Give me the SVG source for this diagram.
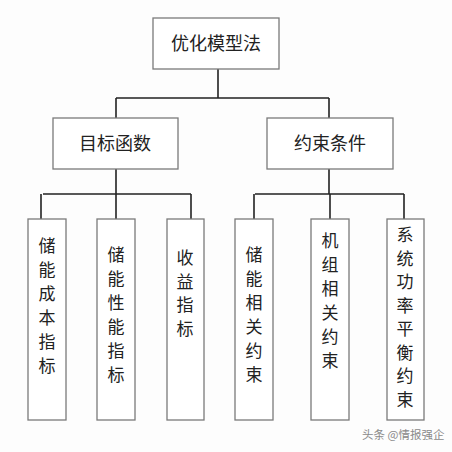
<svg xmlns="http://www.w3.org/2000/svg" width="452" height="452" viewBox="0 0 452 452">
<style>
.box{fill:#fff;stroke:#7a7a7a;stroke-width:1.3}
.ln{fill:none;stroke:#222;stroke-width:1.6}
.t{font-family:"Noto Sans CJK SC","Noto Sans",sans-serif;fill:#222;text-anchor:middle}
.h{font-size:18px}
.v{font-size:17px}
.wm{font-family:"Noto Sans CJK SC",sans-serif;font-size:11.5px;fill:#8a8a8a}
</style>
<rect width="452" height="452" fill="#fdfdfd"/>
<g id="connectors">
<path class="ln" d="M218 69V98M116 98H329M116 98V118M329 98V118"/>
<path class="ln" d="M116 169V194M43 194H191M41 194V219M116 194V219M191 194V219"/>
<path class="ln" d="M329 169V194M255 194H404M254 194V219M330 194V219M404 194V219"/>
</g>
<g id="root"><rect class="box" x="153" y="18" width="126" height="51"/><text class="t h" x="216" y="50">优化模型法</text></g>
<g id="obj"><rect class="box" x="53" y="118" width="125" height="51"/><text class="t h" x="115" y="150">目标函数</text></g>
<g id="con"><rect class="box" x="267" y="118" width="126" height="51"/><text class="t h" x="330" y="150">约束条件</text></g>
<g id="n1"><rect class="box" x="28" y="219" width="38" height="201"/><text class="t v" x="47" y="252"><tspan x="47">储</tspan><tspan x="47" dy="24">能</tspan><tspan x="47" dy="24">成</tspan><tspan x="47" dy="24">本</tspan><tspan x="47" dy="24">指</tspan><tspan x="47" dy="24">标</tspan></text></g>
<g id="n2"><rect class="box" x="97" y="219" width="38" height="201"/><text class="t v" x="116" y="261"><tspan x="116">储</tspan><tspan x="116" dy="24">能</tspan><tspan x="116" dy="24">性</tspan><tspan x="116" dy="24">能</tspan><tspan x="116" dy="24">指</tspan><tspan x="116" dy="24">标</tspan></text></g>
<g id="n3"><rect class="box" x="167" y="219" width="37" height="201"/><text class="t v" x="185" y="264"><tspan x="185">收</tspan><tspan x="185" dy="23.5">益</tspan><tspan x="185" dy="23.5">指</tspan><tspan x="185" dy="23.5">标</tspan></text></g>
<g id="n4"><rect class="box" x="235" y="219" width="38" height="201"/><text class="t v" x="254" y="261"><tspan x="254">储</tspan><tspan x="254" dy="24">能</tspan><tspan x="254" dy="24">相</tspan><tspan x="254" dy="24">关</tspan><tspan x="254" dy="24">约</tspan><tspan x="254" dy="24">束</tspan></text></g>
<g id="n5"><rect class="box" x="311" y="219" width="38" height="201"/><text class="t v" x="330" y="247"><tspan x="330">机</tspan><tspan x="330" dy="24">组</tspan><tspan x="330" dy="24">相</tspan><tspan x="330" dy="24">关</tspan><tspan x="330" dy="24">约</tspan><tspan x="330" dy="24">束</tspan></text></g>
<g id="n6"><rect class="box" x="387" y="219" width="37" height="201"/><text class="t v" x="405" y="241"><tspan x="405">系</tspan><tspan x="405" dy="23.5">统</tspan><tspan x="405" dy="23.5">功</tspan><tspan x="405" dy="23.5">率</tspan><tspan x="405" dy="23.5">平</tspan><tspan x="405" dy="23.5">衡</tspan><tspan x="405" dy="23.5">约</tspan><tspan x="405" dy="23.5">束</tspan></text></g>
<text class="wm" x="362" y="439">头条 @情报强企</text>
</svg>
